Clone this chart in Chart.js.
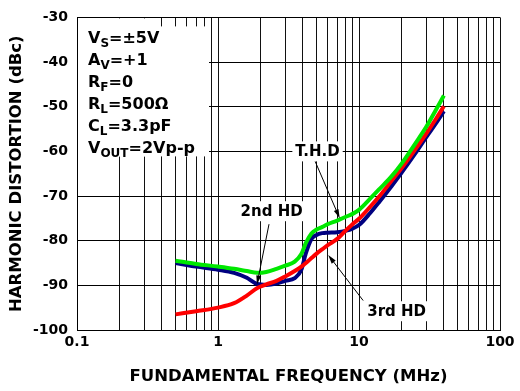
<!DOCTYPE html>
<html>
<head>
<meta charset="utf-8">
<script src="https://cdn.jsdelivr.net/npm/chart.js@4.4.1/dist/chart.umd.min.js"></script>
<style>
  html, body { margin: 0; padding: 0; background: #fff; }
</style>
</head>
<body>
<canvas id="hd" width="520" height="391"></canvas>
<script>
// --- DATA --- //
// frequencias (MHz) onde as curvas foram lidas
const freqs = [0.5, 0.7, 1, 1.3, 1.6, 1.9, 2.2, 2.6, 3, 3.5, 3.9, 4.2, 4.6, 5, 5.5, 6, 7, 8, 9, 10, 12, 14, 17, 20, 25, 30, 35, 40]

// T.H.D (verde)
const thd = [-84.5, -85.2, -85.8, -86.3, -86.8, -87.2, -87.0, -86.3, -85.6, -84.7, -83.0, -80.5, -78.4, -77.5, -76.9, -76.3, -75.5, -74.7, -74.0, -73.1, -70.6, -68.4, -65.6, -62.8, -58.3, -54.5, -50.8, -47.5]

// 2nd HD (azul)
const hd2 = [-85.0, -85.8, -86.5, -87.2, -88.3, -89.7, -89.9, -89.6, -89.0, -88.4, -86.5, -82.8, -79.6, -78.7, -78.3, -78.2, -78.1, -77.8, -77.3, -76.5, -73.8, -71.2, -67.8, -64.8, -60.5, -56.8, -53.8, -51.0]

// 3rd HD (vermelho)
const hd3 = [-96.5, -95.8, -95.0, -94.0, -92.3, -90.6, -89.8, -89.0, -88.0, -86.8, -85.8, -85.0, -83.9, -82.9, -81.9, -81.0, -79.6, -77.8, -76.3, -75.1, -72.4, -70.0, -66.6, -63.8, -59.6, -56.0, -52.8, -49.9]

// linhas verticais da grade (log) e limites do eixo Y
const xGrid = [0.1, 0.2, 0.3, 0.4, 0.5, 0.6, 0.7, 0.8, 0.9,
  1, 2, 3, 4, 5, 6, 7, 8, 9,
  10, 20, 30, 40, 50, 60, 70, 80, 90, 100]
const yMin = -100
const yMax = -30
const yStep = 10

// caixa de condicoes de teste: [principal, subscrito, resto]
const conditions = [
  ['V', 'S', '=±5V'],
  ['A', 'V', '=+1'],
  ['R', 'F', '=0'],
  ['R', 'L', '=500Ω'],
  ['C', 'L', '=3.3pF'],
  ['V', 'OUT', '=2Vp-p']
]

// rotulos com seta (coordenadas em MHz / dBc)
const notes = [
  { text: 'T.H.D', at: [5.08, -60.0], from: [4.88, -62.2], to: [7.3, -75.0] },
  { text: '2nd HD', at: [2.4, -73.4], from: [2.3, -76.3], to: [1.89, -89.8] },
  { text: '3rd HD', at: [18.5, -95.8], from: [10.7, -93.4], to: [6.05, -83.2] }
]

const FONT = "'DejaVu Sans', sans-serif"

const toPoints = ys => freqs.map((f, i) => ({ x: f, y: ys[i] }))

// --- PLUGIN: caixa de texto e setas --- //
const notesPlugin = {
  id: 'notes',
  beforeDatasetsDraw (chart) {
    const { ctx, chartArea: a } = chart
    ctx.save()
    ctx.fillStyle = '#fff'
    ctx.fillRect(a.left + 1, a.top + 1, 77, 138)
    ctx.fillRect(a.left + 1, a.top + 9, 131, 130)

    ctx.fillStyle = '#000'
    ctx.textBaseline = 'alphabetic'
    ctx.textAlign = 'left'
    conditions.forEach((c, i) => {
      let x = a.left + 11
      const y = a.top + 26 + i * 22
      ctx.font = `bold 16px ${FONT}`
      ctx.fillText(c[0], x, y)
      x += ctx.measureText(c[0]).width
      ctx.font = `bold 12px ${FONT}`
      ctx.fillText(c[1], x, y + 4)
      x += ctx.measureText(c[1]).width
      ctx.font = `bold 16px ${FONT}`
      ctx.fillText(c[2], x, y)
    })
    ctx.restore()
  },
  afterDatasetsDraw (chart) {
    const { ctx } = chart
    const sx = chart.scales.x
    const sy = chart.scales.y
    ctx.save()
    ctx.font = `bold 15px ${FONT}`
    ctx.textAlign = 'center'
    ctx.textBaseline = 'middle'
    notes.forEach(n => {
      const x0 = sx.getPixelForValue(n.from[0])
      const y0 = sy.getPixelForValue(n.from[1])
      const x1 = sx.getPixelForValue(n.to[0])
      const y1 = sy.getPixelForValue(n.to[1])
      const ang = Math.atan2(y1 - y0, x1 - x0)

      // linha da seta
      ctx.strokeStyle = '#000'
      ctx.lineWidth = 1
      ctx.beginPath()
      ctx.moveTo(x0, y0)
      ctx.lineTo(x1 - 6 * Math.cos(ang), y1 - 6 * Math.sin(ang))
      ctx.stroke()

      // ponta da seta
      ctx.fillStyle = '#000'
      ctx.beginPath()
      ctx.moveTo(x1, y1)
      ctx.lineTo(x1 - 9 * Math.cos(ang) + 2.5 * Math.sin(ang), y1 - 9 * Math.sin(ang) - 2.5 * Math.cos(ang))
      ctx.lineTo(x1 - 9 * Math.cos(ang) - 2.5 * Math.sin(ang), y1 - 9 * Math.sin(ang) + 2.5 * Math.cos(ang))
      ctx.closePath()
      ctx.fill()

      // rotulo com fundo branco
      const tx = sx.getPixelForValue(n.at[0])
      const ty = sy.getPixelForValue(n.at[1])
      const w = ctx.measureText(n.text).width
      ctx.fillStyle = '#fff'
      ctx.fillRect(tx - w / 2 - 3, ty - 10, w + 6, 20)
      ctx.fillStyle = '#000'
      ctx.fillText(n.text, tx, ty + 1)
    })
    ctx.restore()
  }
}

// --- CHART --- //
const lineStyle = (color, width) => ({
  borderColor: color,
  backgroundColor: color,
  borderWidth: width,
  pointRadius: 0,
  cubicInterpolationMode: 'monotone',
  fill: false
})

new Chart(document.getElementById('hd'), {
  type: 'line',
  data: {
    datasets: [
      { label: 'T.H.D', data: toPoints(thd), ...lineStyle('#00e800', 4) },
      { label: '3rd HD', data: toPoints(hd3), ...lineStyle('#ff0000', 4) },
      { label: '2nd HD', data: toPoints(hd2), ...lineStyle('#000080', 4) }
    ]
  },
  options: {
    responsive: false,
    animation: false,
    layout: { padding: { left: 0, right: 20, top: 14, bottom: 0 } },
    plugins: {
      legend: { display: false },
      tooltip: { enabled: false }
    },
    scales: {
      x: {
        type: 'logarithmic',
        min: 0.1,
        max: 100,
        afterBuildTicks: scale => { scale.ticks = xGrid.map(v => ({ value: v })) },
        afterFit: scale => { scale.height = 61 },
        grid: { color: '#111', lineWidth: 1, drawTicks: false },
        border: { color: '#000', width: 1 },
        ticks: {
          autoSkip: false,
          maxRotation: 0,
          padding: 4,
          color: '#000',
          font: { family: FONT, size: 14, weight: 'bold' },
          callback: v => {
            const l = Math.log10(v)
            return Math.abs(l - Math.round(l)) < 1e-9 ? String(v) : ''
          }
        },
        title: {
          display: true,
          text: 'FUNDAMENTAL FREQUENCY (MHz)',
          color: '#000',
          font: { family: FONT, size: 16.5, weight: 'bold' },
          padding: { top: 0, bottom: 4 }
        }
      },
      y: {
        min: yMin,
        max: yMax,
        afterFit: scale => { scale.width = 77 },
        grid: { color: '#000', lineWidth: 1, drawTicks: false },
        border: { color: '#000', width: 1 },
        ticks: {
          stepSize: yStep,
          padding: 9,
          color: '#000',
          font: { family: FONT, size: 14, weight: 'bold' }
        },
        title: {
          display: true,
          text: 'HARMONIC DISTORTION (dBc)',
          color: '#000',
          font: { family: FONT, size: 16.5, weight: 'bold' },
          padding: { top: 7, bottom: 0 }
        }
      }
    }
  },
  plugins: [notesPlugin]
})
</script>
</body>
</html>
